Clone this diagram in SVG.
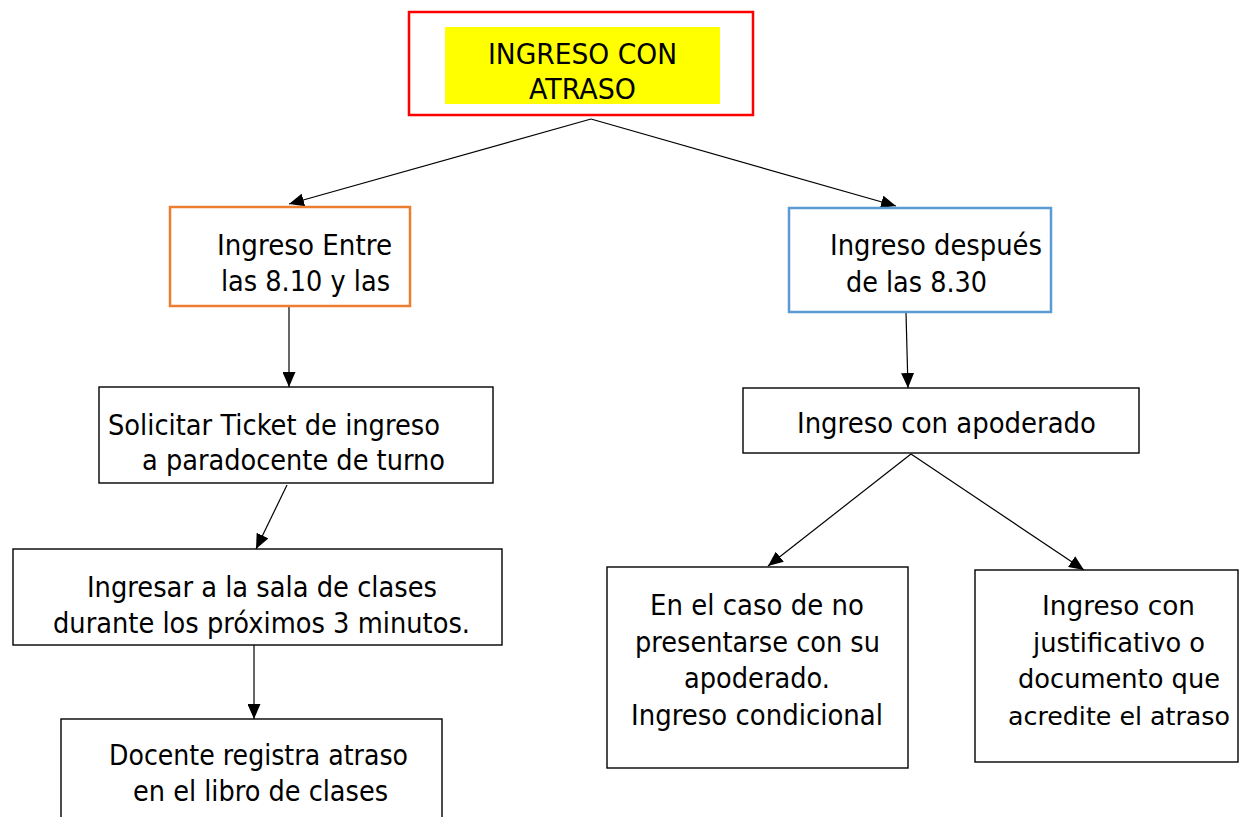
<svg xmlns="http://www.w3.org/2000/svg" width="1239" height="817" viewBox="0 0 1239 817">
<style>
text{font-family:"DejaVu Sans","Liberation Sans",sans-serif;font-size:28.5px;fill:#000}
.sm{font-size:27px}
.xs{font-size:25.5px}
.box{fill:#fff;stroke:#000;stroke-width:1.4}
.conn line{stroke:#000;stroke-width:1.2;fill:none}
</style>
<defs>
<marker id="ah" viewBox="0 0 15 13" refX="15" refY="6.5" markerWidth="15" markerHeight="13" markerUnits="userSpaceOnUse" orient="auto">
<path d="M0,0 L15,6.5 L0,13 Z" fill="#000"/>
</marker>
</defs>
<rect width="1239" height="817" fill="#fff"/>
<g class="conn">
<line x1="591" y1="119" x2="289" y2="204" marker-end="url(#ah)"/>
<line x1="591" y1="119" x2="896" y2="206" marker-end="url(#ah)"/>
<line x1="289" y1="307" x2="289" y2="387" marker-end="url(#ah)"/>
<line x1="906" y1="313" x2="908" y2="388" marker-end="url(#ah)"/>
<line x1="287" y1="485" x2="256" y2="549" marker-end="url(#ah)"/>
<line x1="254" y1="645" x2="254" y2="719" marker-end="url(#ah)"/>
<line x1="911" y1="454" x2="768" y2="566" marker-end="url(#ah)"/>
<line x1="911" y1="454" x2="1084" y2="570" marker-end="url(#ah)"/>
</g>
<g id="n-top">
<rect x="409" y="12" width="344" height="103" fill="#fff" stroke="#f00" stroke-width="2.5"/>
<rect x="445" y="27" width="275" height="77" fill="#ff0"/>
<text x="488" y="64" textLength="189" lengthAdjust="spacingAndGlyphs">INGRESO CON</text>
<text x="529" y="99" textLength="107" lengthAdjust="spacingAndGlyphs">ATRASO</text>
</g>
<g id="n-entre">
<rect x="170" y="207" width="240" height="99" fill="#fff" stroke="#ed7d31" stroke-width="2.5"/>
<text x="217" y="255" textLength="175" lengthAdjust="spacingAndGlyphs">Ingreso Entre</text>
<text x="221" y="291" textLength="169" lengthAdjust="spacingAndGlyphs">las 8.10 y las</text>
</g>
<g id="n-despues">
<rect x="789" y="208" width="262" height="104" fill="#fff" stroke="#5b9bd5" stroke-width="2.5"/>
<text x="830" y="255" textLength="212" lengthAdjust="spacingAndGlyphs">Ingreso después</text>
<text x="846" y="292" textLength="141" lengthAdjust="spacingAndGlyphs">de las 8.30</text>
</g>
<g id="n-ticket">
<rect class="box" x="99" y="387" width="394" height="96"/>
<text x="108" y="435" textLength="332" lengthAdjust="spacingAndGlyphs">Solicitar Ticket de ingreso</text>
<text x="142" y="470" textLength="303" lengthAdjust="spacingAndGlyphs">a paradocente de turno</text>
</g>
<g id="n-sala">
<rect class="box" x="13" y="549" width="489" height="96"/>
<text x="87" y="597" textLength="350" lengthAdjust="spacingAndGlyphs">Ingresar a la sala de clases</text>
<text x="53" y="633" textLength="417" lengthAdjust="spacingAndGlyphs">durante los próximos 3 minutos.</text>
</g>
<g id="n-docente">
<rect class="box" x="61" y="719" width="381" height="110"/>
<text x="109" y="765" textLength="299" lengthAdjust="spacingAndGlyphs">Docente registra atraso</text>
<text x="133" y="801" textLength="255" lengthAdjust="spacingAndGlyphs">en el libro de clases</text>
</g>
<g id="n-apoderado">
<rect class="box" x="743" y="388" width="396" height="65"/>
<text x="797" y="433" textLength="299" lengthAdjust="spacingAndGlyphs">Ingreso con apoderado</text>
</g>
<g id="n-condicional">
<rect class="box" x="607" y="567" width="301" height="201"/>
<text x="650" y="615" textLength="214" lengthAdjust="spacingAndGlyphs">En el caso de no</text>
<text x="635" y="652" textLength="245" lengthAdjust="spacingAndGlyphs">presentarse con su</text>
<text x="684" y="688" textLength="146" lengthAdjust="spacingAndGlyphs">apoderado.</text>
<text x="631" y="725" textLength="252" lengthAdjust="spacingAndGlyphs">Ingreso condicional</text>
</g>
<g id="n-justificativo">
<rect class="box" x="975" y="570" width="263" height="192"/>
<text class="sm" x="1042" y="615" textLength="153" lengthAdjust="spacingAndGlyphs">Ingreso con</text>
<text class="sm" x="1033" y="652" textLength="172" lengthAdjust="spacingAndGlyphs">justificativo o</text>
<text class="sm" x="1018" y="688" textLength="202" lengthAdjust="spacingAndGlyphs">documento que</text>
<text class="xs" x="1008" y="725" textLength="222" lengthAdjust="spacingAndGlyphs">acredite el atraso</text>
</g>
</svg>
